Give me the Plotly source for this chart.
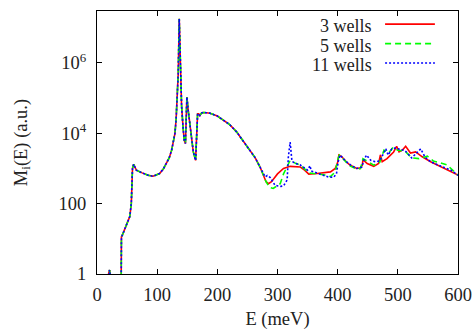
import plotly.graph_objects as go

# ---- data (E in meV, M_i in a.u.) ----
E_common = [5, 17, 19.5, 21, 23, 30, 40, 40.6, 42, 47, 52, 54.5, 57, 59, 61, 63, 65.5, 75, 85, 93,
            104, 110, 115.5, 120, 124, 127, 129.5, 131.5, 133.4, 135, 136.7, 138.5, 140.6, 143,
            145, 147, 148.5, 149.4, 151.6, 154, 157, 160, 163.9, 165.5, 167.2, 169, 171, 174,
            176.7, 182, 188, 200, 210, 220, 232, 245, 254.5, 263, 271, 277]
M_common = [0.1, 0.2, 1.05, 1.3, 0.5, 0.1, 0.1, 11.5, 12.6, 20, 34, 43, 100, 1000, 1320, 1050, 890,
            750, 640, 600, 720, 950, 1380, 2000, 3300, 5500, 9800, 25000, 87000, 5e5, 1.8e7, 6e5,
            60000, 15000, 6300, 5100, 30000, 1.07e5, 45000, 20000, 6300, 3000, 1700, 8000, 36000,
            36000, 32000, 38000, 39000, 38500, 37000, 31000, 23400, 18000, 11000, 5500, 3300,
            2000, 1100, 650]

E_3w = [281, 285, 290, 300, 310, 321, 330, 338, 345, 352, 366, 380, 388, 396, 400, 402, 407, 415,
        421, 432, 438, 441, 442, 449, 460, 468, 471, 474, 482, 493, 498, 502, 508, 513, 521, 529.5,
        540.6, 554.5, 577, 600]
M_3w = [420, 370, 420, 700, 1000, 1150, 1150, 1100, 900, 690, 720, 760, 800, 1000, 1500, 2400, 2150,
        1500, 1230, 1000, 1050, 1230, 1780, 1380, 1150, 1380, 2450, 1550, 1900, 2950, 4270, 2950,
        3400, 4270, 2750, 2950, 2150, 1550, 1000, 650]

E_5w = [281, 287, 293, 300, 304.5, 310, 316, 321, 330, 338, 352, 366, 380, 388, 396, 401, 403, 410,
        420, 432, 438, 442, 449, 460, 470, 477, 485, 492, 500, 512, 523, 535, 549, 560, 571, 582, 600]
M_5w = [420, 290, 270, 330, 370, 700, 1100, 1700, 1400, 1250, 750, 700, 650, 590, 800, 2000, 2400,
        1800, 1200, 950, 1000, 1900, 1600, 1250, 1500, 3300, 2800, 4000, 3300, 3100, 2000, 1900,
        2240, 1600, 1450, 1260, 640]

E_11w = [279.5, 283, 288, 296, 305, 310, 314, 316, 318, 320, 321, 324, 330, 338, 350, 354, 356, 371,
         385, 393, 398, 401, 404, 412, 423, 432, 440, 444, 448, 455, 463, 470, 477, 480, 484, 490,
         495, 505, 512, 523, 530, 538, 544, 549, 560, 588, 600]
M_11w = [575, 630, 550, 330, 310, 320, 400, 470, 2100, 5600, 5600, 1600, 1400, 1250, 900, 1200, 850,
         690, 570, 560, 700, 1600, 2400, 1700, 1200, 1000, 1100, 1800, 2400, 1700, 1550, 1650, 3000,
         3600, 2400, 3600, 3800, 3500, 3200, 2000, 2600, 3600, 2300, 1800, 1400, 900, 640]

series_names = ["3 wells", "5 wells", "11 wells"]
series_colors = ["#ff0000", "#00ff00", "#0000ff"]
series_dash = ["solid", "6px,4px", "2px,2px"]
series_E = [E_3w, E_5w, E_11w]
series_M = [M_3w, M_5w, M_11w]

x_ticks = [0, 100, 200, 300, 400, 500, 600]
y_ticks = [1, 100, 1e4, 1e6]
y_ticklabels = ["1", "100", "10<sup>4</sup>", "10<sup>6</sup>"]

FONT = "Liberation Serif"
TXT = "#222222"
FS = 18.5
FS_LEG = 18

fig = go.Figure()
for name, col, dash, ex, mx in zip(series_names, series_colors, series_dash, series_E, series_M):
    fig.add_trace(go.Scatter(
        x=E_common + ex, y=M_common + mx, mode="lines", name=name,
        line=dict(color=col, width=1.6, dash=dash), showlegend=False,
    ))

# gnuplot-style legend: text right-aligned, sample line to the right
leg_y = [0.950, 0.876, 0.802]
for name, col, dash, ly in zip(series_names, series_colors, series_dash, leg_y):
    fig.add_annotation(x=0.766, y=ly - 0.008, xref="paper", yref="paper", text=name, showarrow=False,
                       xanchor="right", yanchor="middle",
                       font=dict(family=FONT, size=FS_LEG, color=TXT))
    fig.add_shape(type="line", xref="paper", yref="paper", x0=0.798, x1=0.936, y0=ly, y1=ly,
                  line=dict(color=col, width=1.6, dash=dash))

fig.update_layout(
    width=475, height=330, margin=dict(l=97, r=17, t=11, b=56, autoexpand=False),
    plot_bgcolor="white", paper_bgcolor="white",
    font=dict(family=FONT, size=FS, color=TXT),
    xaxis=dict(range=[0, 600], tickvals=x_ticks,
               title=dict(text="E (meV)", font=dict(family=FONT, size=FS, color=TXT), standoff=10),
               showline=True, linecolor="black", linewidth=1, mirror="ticks",
               ticks="inside", ticklen=5, tickcolor="black", showgrid=False, zeroline=False,
               ticklabelstandoff=4,
               tickfont=dict(family=FONT, size=FS, color=TXT)),
    yaxis=dict(type="log", range=[0, 7.477], tickvals=y_ticks, ticktext=y_ticklabels,
               title=dict(text="M<sub>i</sub>(E) (a.u.)", font=dict(family=FONT, size=FS, color=TXT),
                          standoff=26),
               showline=True, linecolor="black", linewidth=1, mirror="ticks",
               ticks="inside", ticklen=5, tickcolor="black", showgrid=False, zeroline=False,
               ticklabelstandoff=6,
               tickfont=dict(family=FONT, size=FS, color=TXT)),
)

fig.write_html("out.html")
